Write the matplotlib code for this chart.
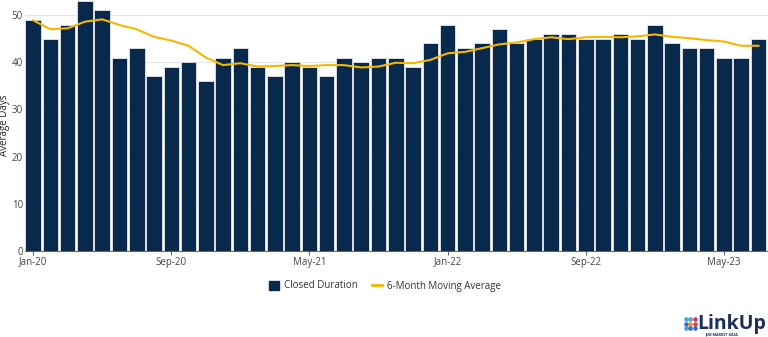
import numpy as np
import matplotlib.pyplot as plt
from matplotlib.lines import Line2D
from matplotlib.patches import Patch

plt.rcParams["font.family"] = ["Open Sans", "DejaVu Sans"]

months = ["Jan-20", "Feb-20", "Mar-20", "Apr-20", "May-20", "Jun-20", "Jul-20", "Aug-20",
          "Sep-20", "Oct-20", "Nov-20", "Dec-20", "Jan-21", "Feb-21", "Mar-21", "Apr-21",
          "May-21", "Jun-21", "Jul-21", "Aug-21", "Sep-21", "Oct-21", "Nov-21", "Dec-21",
          "Jan-22", "Feb-22", "Mar-22", "Apr-22", "May-22", "Jun-22", "Jul-22", "Aug-22",
          "Sep-22", "Oct-22", "Nov-22", "Dec-22", "Jan-23", "Feb-23", "Mar-23", "Apr-23",
          "May-23", "Jun-23", "Jul-23"]
closed = [49, 45, 48, 53, 51, 41, 43, 37, 39, 40, 36, 41, 43, 39, 37, 40,
          39, 37, 41, 40, 41, 41, 39, 44, 48, 43, 44, 47, 44, 45, 46, 46,
          45, 45, 46, 45, 48, 44, 43, 43, 41, 41, 45]
moving_avg = [48.9, 47.0, 47.2, 48.6, 49.1, 47.9, 47.0, 45.4, 44.6, 43.5, 41.0, 39.4,
              39.8, 39.1, 39.2, 39.4, 39.2, 39.4, 39.4, 38.9, 39.1, 39.9, 39.8, 40.5,
              41.9, 42.2, 43.0, 43.8, 44.2, 44.9, 45.3, 44.9, 45.3, 45.4, 45.3, 45.5,
              45.9, 45.4, 45.1, 44.7, 44.4, 43.5, 43.5]
tick_labels = ["Jan-20", "Sep-20", "May-21", "Jan-22", "Sep-22", "May-23"]

navy = "#08294c"
gold = "#f5b700"

x = np.arange(len(months))

fig = plt.figure(figsize=(7.68, 3.37), dpi=100)
ax = fig.add_axes([25 / 768, 1 - 251 / 337, 1 - 25 / 768, 251 / 337])

ax.bar(x, closed, width=0.9, color=navy, edgecolor="#e8e8e8", linewidth=0.6, zorder=2)
ax.plot(x, moving_avg, color=gold, linewidth=1.5, zorder=3)

ax.set_xlim(-0.47, 42.55)
ax.set_ylim(0, 53.2)
ax.set_yticks(range(0, 51, 10))
ax.grid(axis="y", color="#e6e6e6", linewidth=0.8, zorder=0)

tick_pos = [months.index(m) for m in tick_labels]
ax.set_xticks(tick_pos)
ax.set_xticklabels(tick_labels)
ax.tick_params(axis="x", length=3, width=0.6, color="#444444", labelsize=7,
               labelcolor="#444444", pad=1)
ax.tick_params(axis="y", length=0, labelsize=7, labelcolor="#444444", pad=1.5)

for s in ["top", "right", "left"]:
    ax.spines[s].set_visible(False)
ax.spines["bottom"].set_color("#444444")
ax.spines["bottom"].set_linewidth(0.6)

ax.set_ylabel("Average Days", fontsize=7, color="#222222")
ax.yaxis.set_label_coords(-14.5 / 743, 0.5)

handles = [Patch(facecolor=navy, edgecolor=navy),
           Line2D([0], [0], color=gold, linewidth=2)]
fig.legend(handles, ["Closed Duration", "6-Month Moving Average"],
           loc="center", bbox_to_anchor=(385 / 768, 1 - 286 / 337), ncol=2,
           frameon=False, fontsize=7, handlelength=1.0, handleheight=1.0,
           columnspacing=1.5, handletextpad=0.5, labelcolor="#333333")

# logo: 3x3 coloured dots + wordmark
dot_colors = [["#4aa3df", "#4aa3df", "#d6336c"],
              ["#2a6fc9", "#f08a24", "#e0413a"],
              ["#4aa3df", "#2a6fc9", "#2a6fc9"]]
for r in range(3):
    for c in range(3):
        fig.add_artist(Line2D([(686 + c * 4.3) / 768], [1 - (319 + r * 4.5) / 337],
                              marker="o", markersize=2.3, linestyle="none",
                              color=dot_colors[r][c], transform=fig.transFigure))
fig.text(697 / 768, 1 - 323.5 / 337, "LinkUp", fontsize=14, fontweight="bold",
         color="#1c2e5c", va="center", ha="left")
fig.text(722 / 768, 1 - 334.5 / 337, "JOB MARKET DATA", fontsize=2.6, fontweight="bold",
         color="#1c2e5c", va="center", ha="center")

fig.savefig("out.png", dpi=100)
